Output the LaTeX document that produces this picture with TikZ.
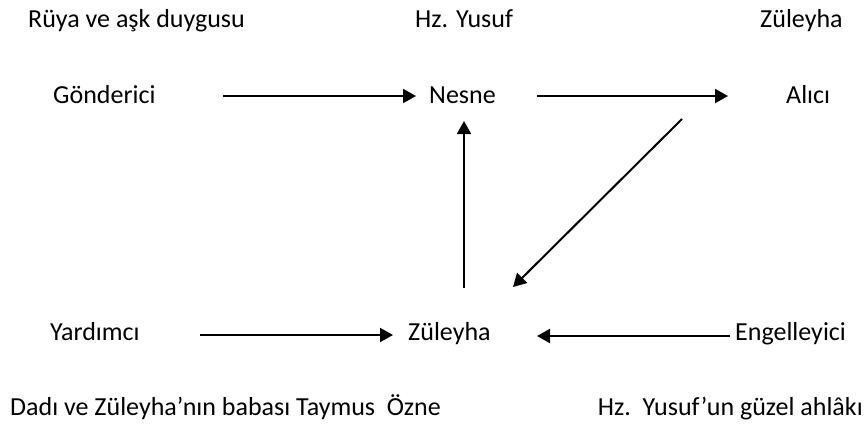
\documentclass[tikz,border=0pt]{standalone}
\usepackage{fontspec}
\setmainfont{Carlito}
\usetikzlibrary{arrows.meta}
\begin{document}
\begin{tikzpicture}[x=1pt,y=-1pt,
  lbl/.style={anchor=base west,inner sep=0pt,font=\fontsize{26}{30}\selectfont},
  lblr/.style={anchor=base east,inner sep=0pt,font=\fontsize{26}{30}\selectfont},
  arr/.style={line width=2pt,-{Triangle[length=13pt,width=14pt]}}]
\useasboundingbox (0,0) rectangle (867,424);
% top row
\node[lbl] (t1) at (28,27) {Rüya ve aşk duygusu};
\node[lbl] (t2) at (415,27) {Hz. Yusuf};
\node[lbl] (t3) at (760,27) {Züleyha};
% middle row
\node[lbl] (gon) at (53,103) {Gönderici};
\node[lbl] (nes) at (429,103) {Nesne};
\node[lbl] (ali) at (786,103) {Alıcı};
% bottom row
\node[lbl] (yar) at (50,340) {Yardımcı};
\node[lbl] (zul) at (408,340) {Züleyha};
\node[lbl] (eng) at (735,340) {Engelleyici};
% last row
\node[lbl] (dadi) at (10,415) {Dadı ve Züleyha’nın babası Taymus\ \ Özne};
\node[lblr] (ahl) at (863,415) {Hz.\ \ Yusuf’un güzel ahlâkı};
% connector ends
\coordinate (a1s) at (223,96);
\coordinate (a1e) at (416,96);
\coordinate (a2s) at (537,96);
\coordinate (a2e) at (728,96);
\coordinate (a3s) at (682,119);
\coordinate (a3e) at (513,287);
\coordinate (a4s) at (464,288);
\coordinate (a4e) at (464,121);
\coordinate (a5s) at (200,335);
\coordinate (a5e) at (393,335);
\coordinate (a6s) at (730,336);
\coordinate (a6e) at (537,336);
\draw[arr] (a1s) -- (a1e);
\draw[arr] (a2s) -- (a2e);
\draw[arr] (a3s) -- (a3e);
\draw[arr] (a4s) -- (a4e);
\draw[arr] (a5s) -- (a5e);
\draw[arr] (a6s) -- (a6e);
\end{tikzpicture}
\end{document}
